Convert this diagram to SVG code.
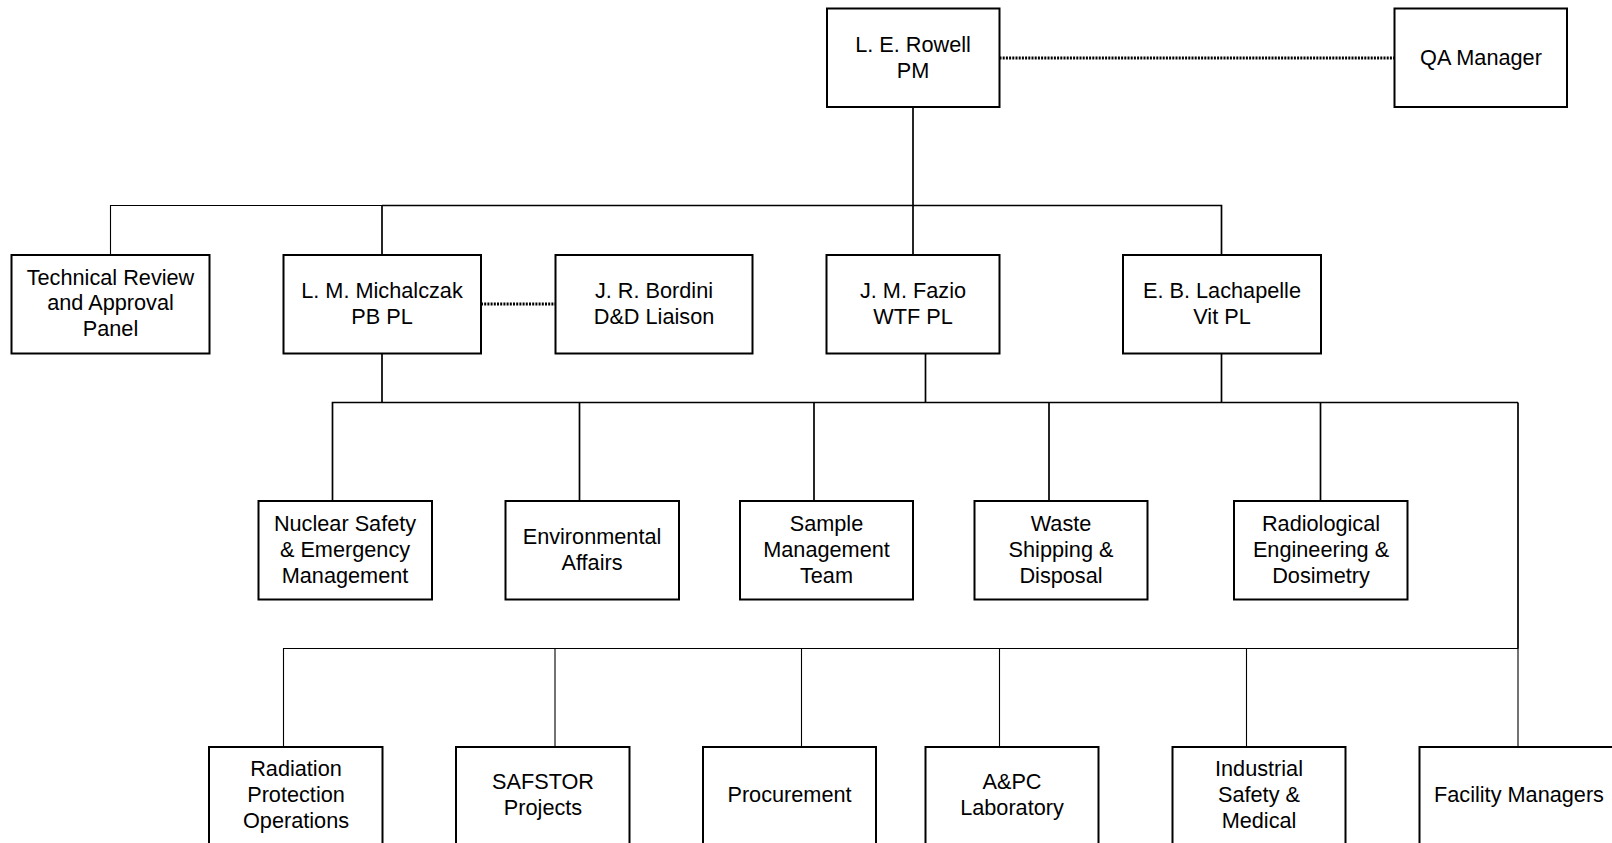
<svg xmlns="http://www.w3.org/2000/svg" width="1612" height="843" viewBox="0 0 1612 843">
<style>
.box{fill:#fff;stroke:#000;stroke-width:2}
.t{font-family:"Liberation Sans",Arial,sans-serif;font-size:21.7px;fill:#000;text-anchor:middle}
.c{fill:none;stroke:#000;stroke-width:1.7}
.thin{fill:none;stroke:#000;stroke-width:1.1}
.dot{fill:none;stroke:#000;stroke-width:3;stroke-dasharray:2 1.2}
</style>
<rect width="1612" height="843" fill="#fff"/>
<g id="connectors">
<path class="c" d="M913 107V205.5M382 205.5H1221.5V255M913 205.5V255M382 205.5V255"/>
<path class="thin" d="M110.5 255V205.5H382"/>
<path class="c" d="M382 354V402.5M925.5 354V402.5M1221.5 354V402.5M332.5 501V402.5H1518M579.5 402.5V501M814 402.5V501M1049 402.5V501M1320.5 402.5V501M1518 402.5V648.5"/>
<path class="thin" d="M283.5 747V648.5H1518V747M555 648.5V747M801.5 648.5V747M999.5 648.5V747M1246.5 648.5V747"/>
<path class="dot" d="M999.5 58H1394"/>
<path class="dot" d="M481 304H555.5"/>
</g>
<g id="rowell"><rect class="box" x="827" y="8.5" width="172.5" height="98.5"/><text class="t" x="913" y="52">L. E. Rowell</text><text class="t" x="913" y="77.8">PM</text></g>
<g id="qa"><rect class="box" x="1394.5" y="8.5" width="172.5" height="98.5"/><text class="t" x="1481" y="65">QA Manager</text></g>
<g id="tech"><rect class="box" x="11.5" y="255" width="198" height="98.5"/><text class="t" x="110.5" y="284.5">Technical Review</text><text class="t" x="110.5" y="310.3">and Approval</text><text class="t" x="110.5" y="336.1">Panel</text></g>
<g id="michalczak"><rect class="box" x="283.5" y="255" width="197.5" height="98.5"/><text class="t" x="382" y="298">L. M. Michalczak</text><text class="t" x="382" y="323.8">PB PL</text></g>
<g id="bordini"><rect class="box" x="555.5" y="255" width="197" height="98.5"/><text class="t" x="654" y="298">J. R. Bordini</text><text class="t" x="654" y="323.8">D&amp;D Liaison</text></g>
<g id="fazio"><rect class="box" x="826.5" y="255" width="173" height="98.5"/><text class="t" x="913" y="298">J. M. Fazio</text><text class="t" x="913" y="323.8">WTF PL</text></g>
<g id="lachapelle"><rect class="box" x="1123" y="255" width="198" height="98.5"/><text class="t" x="1222" y="298">E. B. Lachapelle</text><text class="t" x="1222" y="323.8">Vit PL</text></g>
<g id="nuclear"><rect class="box" x="258.5" y="501" width="173.5" height="98.5"/><text class="t" x="345" y="531">Nuclear Safety</text><text class="t" x="345" y="556.8">&amp; Emergency</text><text class="t" x="345" y="582.6">Management</text></g>
<g id="env"><rect class="box" x="505.5" y="501" width="173.5" height="98.5"/><text class="t" x="592" y="544">Environmental</text><text class="t" x="592" y="569.8">Affairs</text></g>
<g id="sample"><rect class="box" x="740" y="501" width="173" height="98.5"/><text class="t" x="826.5" y="531">Sample</text><text class="t" x="826.5" y="556.8">Management</text><text class="t" x="826.5" y="582.6">Team</text></g>
<g id="waste"><rect class="box" x="974.5" y="501" width="173" height="98.5"/><text class="t" x="1061" y="531">Waste</text><text class="t" x="1061" y="556.8">Shipping &amp;</text><text class="t" x="1061" y="582.6">Disposal</text></g>
<g id="radiological"><rect class="box" x="1234" y="501" width="173.5" height="98.5"/><text class="t" x="1321" y="531">Radiological</text><text class="t" x="1321" y="556.8">Engineering &amp;</text><text class="t" x="1321" y="582.6">Dosimetry</text></g>
<g id="radprot"><rect class="box" x="209" y="747" width="173.5" height="99"/><text class="t" x="296" y="776">Radiation</text><text class="t" x="296" y="801.8">Protection</text><text class="t" x="296" y="827.6">Operations</text></g>
<g id="safstor"><rect class="box" x="456" y="747" width="173.5" height="99"/><text class="t" x="543" y="789">SAFSTOR</text><text class="t" x="543" y="814.8">Projects</text></g>
<g id="procurement"><rect class="box" x="703" y="747" width="173" height="99"/><text class="t" x="789.5" y="802">Procurement</text></g>
<g id="apc"><rect class="box" x="925.5" y="747" width="173" height="99"/><text class="t" x="1012" y="789">A&amp;PC</text><text class="t" x="1012" y="814.8">Laboratory</text></g>
<g id="industrial"><rect class="box" x="1172.5" y="747" width="173" height="99"/><text class="t" x="1259" y="776">Industrial</text><text class="t" x="1259" y="801.8">Safety &amp;</text><text class="t" x="1259" y="827.6">Medical</text></g>
<g id="facility"><rect class="box" x="1419.5" y="747" width="200" height="99"/><text class="t" x="1519" y="802">Facility Managers</text></g>
</svg>
